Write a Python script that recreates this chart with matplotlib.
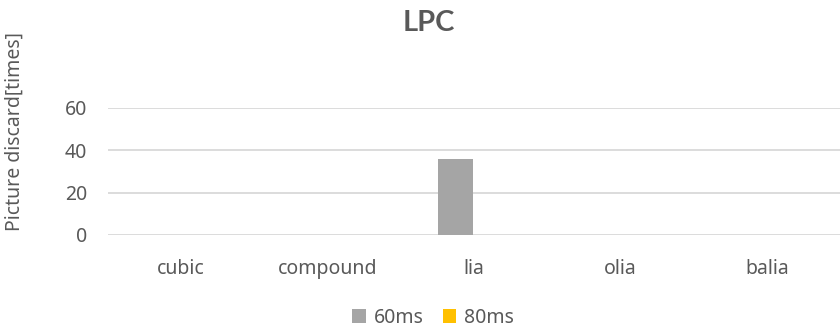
import matplotlib
matplotlib.use("Agg")
import matplotlib.pyplot as plt
import numpy as np

plt.rcParams['font.family'] = ['Noto Sans', 'DejaVu Sans']

categories = ["cubic", "compound", "lia", "olia", "balia"]
series_names = ["60ms", "80ms"]
values_60ms = [0, 0, 36, 0, 0]
values_80ms = [0, 0, 0, 0, 0]
y_ticks = [0, 20, 40, 60]

colors = ["#A5A5A5", "#FFC000"]
text_color = "#595959"

fig = plt.figure(figsize=(8.4, 3.3), dpi=100)
ax = fig.add_axes([0.1286, 0.288, 0.8714, 0.385])

x = np.arange(len(categories))
w = 0.235
ax.bar(x - w / 2 - 0.01, values_60ms, width=w, color=colors[0], label=series_names[0], zorder=3)
ax.bar(x + w / 2 - 0.01, values_80ms, width=w, color=colors[1], label=series_names[1], zorder=3)

ax.set_xlim(-0.5, len(categories) - 0.5)
ax.set_ylim(0, 60)
ax.set_yticks(y_ticks)
ax.set_xticks(x)
ax.set_xticklabels(categories)
ax.tick_params(axis='both', length=0, labelsize=14, colors=text_color)
ax.tick_params(axis='x', pad=17)
ax.tick_params(axis='y', pad=15)
ax.grid(axis='y', color='#D9D9D9', linewidth=1.3, zorder=0)
for s in ax.spines.values():
    s.set_visible(False)

fig.text(15 / 840, 1 - 132 / 330, "Picture discard[times]", rotation=90, ha='center', va='center',
         fontsize=14, color=text_color)
fig.text(429 / 840, 1 - 23 / 330, "LPC", ha='center', va='center', fontsize=21,
         fontweight='bold', family=['Lato', 'DejaVu Sans'], color=text_color)

fig.legend(loc='center', bbox_to_anchor=(433 / 840, 1 - 318 / 330), ncol=2, frameon=False,
           fontsize=14, handlelength=0.7, handleheight=0.7, handletextpad=0.4,
           columnspacing=1.0, labelcolor=text_color)

fig.savefig("out.png", dpi=100)
